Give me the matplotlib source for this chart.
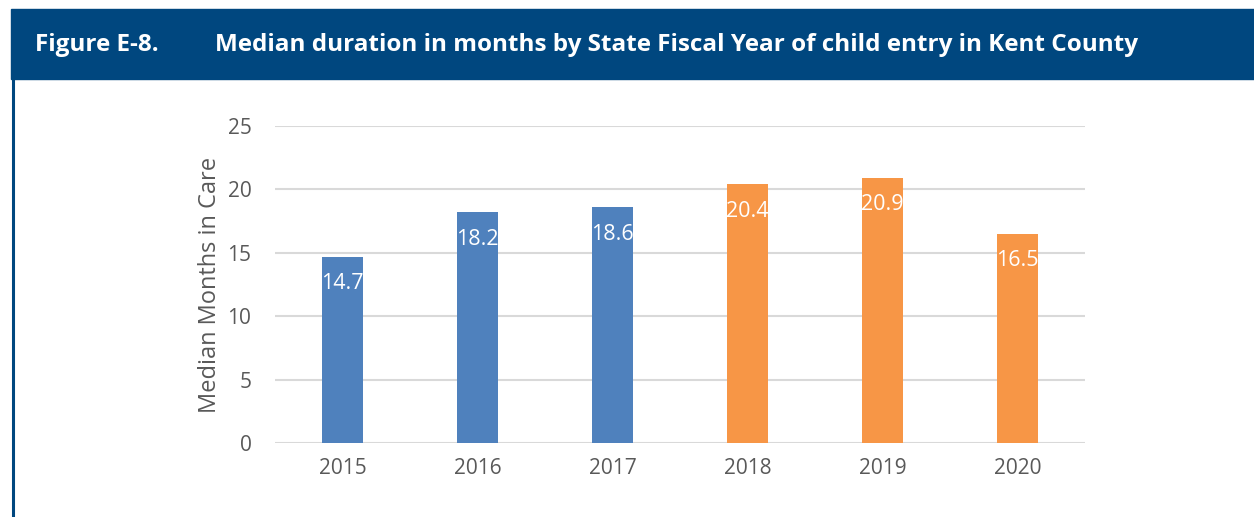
import matplotlib.pyplot as plt
from matplotlib.patches import Rectangle
from matplotlib.lines import Line2D

# Data
years = ['2015', '2016', '2017', '2018', '2019', '2020']
months = [14.7, 18.2, 18.6, 20.4, 20.9, 16.5]
colors = ['#4F81BD', '#4F81BD', '#4F81BD', '#F79646', '#F79646', '#F79646']
yticks = [0, 5, 10, 15, 20, 25]

W, H = 1254, 517
fig = plt.figure(figsize=(W / 100, H / 100), dpi=100)

# header band and left border
navy = '#00477F'
fig.patches.append(Rectangle((11 / W, 1 - 79 / H), 1 - 11 / W, 70 / H,
                             transform=fig.transFigure, color=navy, zorder=0))
fig.lines.append(Line2D([12.5 / W, 12.5 / W], [0, 1 - 79 / H],
                        transform=fig.transFigure, color=navy, lw=2.2))
fig.text(35 / W, 1 - 45 / H, 'Figure E-8.', color='white', fontsize=17.5,
         fontweight='bold', family='Open Sans', va='center')
fig.text(215 / W, 1 - 45 / H,
         'Median duration in months by State Fiscal Year of child entry in Kent County',
         color='white', fontsize=17.5, fontweight='bold', family='Open Sans', va='center')

ax = fig.add_axes([275 / W, 1 - 443 / H, 810 / W, 317 / H])
x = range(len(years))
bars = ax.bar(x, months, width=0.31, color=colors, zorder=2)
for xi, v in zip(x, months):
    ax.annotate(f'{v}', (xi, v), xytext=(0, -27), textcoords='offset pixels',
                ha='center', va='center', color='white', fontsize=15.5,
                family='Open Sans')

ax.set_xlim(-0.5, len(years) - 0.5)
ax.set_ylim(0, 25)
ax.set_yticks(yticks)
ax.set_xticks(list(x))
ax.set_xticklabels(years)
ax.yaxis.grid(True, color='#D9D9D9', lw=1.5, zorder=0)
ax.set_axisbelow(True)
for s in ax.spines.values():
    s.set_visible(False)
ax.tick_params(length=0, labelsize=15, labelcolor='#595959')
ax.tick_params(axis='x', pad=11)
ax.tick_params(axis='y', pad=17)
for lab in ax.get_xticklabels() + ax.get_yticklabels():
    lab.set_family('Open Sans')
ax.set_ylabel('Median Months in Care', fontsize=17, color='#595959',
              family='Open Sans', labelpad=4)

fig.savefig('out.png', dpi=100)
